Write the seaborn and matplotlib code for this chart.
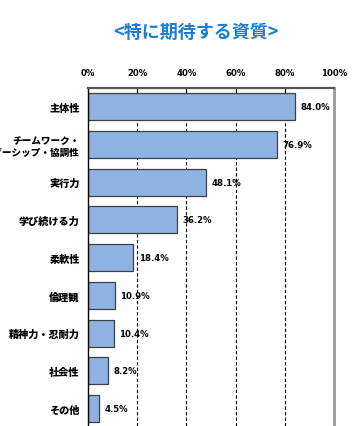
import matplotlib
matplotlib.use("Agg")
from matplotlib import pyplot as plt
import seaborn as sns
import pandas as pd

# data
qualities = ['主体性', 'チームワーク・\nリーダーシップ・協調性', '実行力', '学び続ける力',
             '柔軟性', '倫理観', '精神力・忍耐力', '社会性', 'その他']
shares = [84.0, 76.9, 48.1, 36.2, 18.4, 10.9, 10.4, 8.2, 4.5]
xticks = [0, 20, 40, 60, 80, 100]
xtick_labels = ['0%', '20%', '40%', '60%', '80%', '100%']
title = '<特に期待する資質>'

df = pd.DataFrame({'quality': qualities, 'share': shares})

sns.set_style('white')
plt.rcParams['font.family'] = ['Noto Sans CJK JP', 'DejaVu Sans']
plt.rcParams['text.color'] = 'black'
plt.rcParams['xtick.color'] = 'black'
plt.rcParams['ytick.color'] = 'black'

num_font = dict(family='DejaVu Sans', stretch='condensed', fontweight='bold')

fig = plt.figure(figsize=(3.61, 4.27), dpi=100)
ax = fig.add_axes([88 / 361, 0.0, 246 / 361, 1 - 89 / 427])

sns.barplot(data=df, y='quality', x='share', orient='h', color='#8db3e2',
            edgecolor='#404040', linewidth=0.9, width=0.715, saturation=1, ax=ax)

ax.bar_label(ax.containers[0], labels=[f'{v:.1f}%' for v in shares], padding=4,
             fontsize=6.8, **num_font)

ax.set_xlim(0, 100)
ax.set_ylim(8.46, -0.49)
ax.set_xlabel('')
ax.set_ylabel('')

ax.xaxis.tick_top()
ax.set_xticks(xticks)
ax.set_xticklabels(xtick_labels, fontsize=6.8, **num_font)
ax.tick_params(axis='x', direction='in', length=3, width=0.8, pad=8)
ax.tick_params(axis='y', length=0, pad=6)
for lab in ax.get_yticklabels():
    lab.set_fontsize(7.3)
    lab.set_fontweight('heavy')
    lab.set_horizontalalignment('right')
    lab.set_multialignment('right')
ax.get_yticklabels()[1].set_fontsize(6.9)
ax.set_yticks([i + 0.5 for i in range(len(qualities) - 1)], minor=True)
ax.tick_params(axis='y', which='minor', direction='in', length=3, width=0.8)

ax.set_axisbelow(True)
ax.grid(axis='x', color='black', linestyle=(0, (3, 2)), linewidth=0.8)
gl = ax.xaxis.get_gridlines()
gl[0].set_visible(False)
gl[-1].set_visible(False)
ax.grid(axis='y', visible=False)

ax.spines['top'].set_color('#555555')
ax.spines['top'].set_linewidth(1.6)
ax.spines['left'].set_color('black')
ax.spines['left'].set_linewidth(1.0)
ax.spines['right'].set_color('#999999')
ax.spines['right'].set_linewidth(2.0)
ax.spines['right'].set_linestyle((0, (2, 1)))
ax.spines['bottom'].set_visible(False)

fig.text(196 / 361, 1 - 32 / 427, title, ha='center', va='center', fontsize=13,
         fontweight='bold', color='#1a7dd0')

fig.savefig('out.png', dpi=100)
